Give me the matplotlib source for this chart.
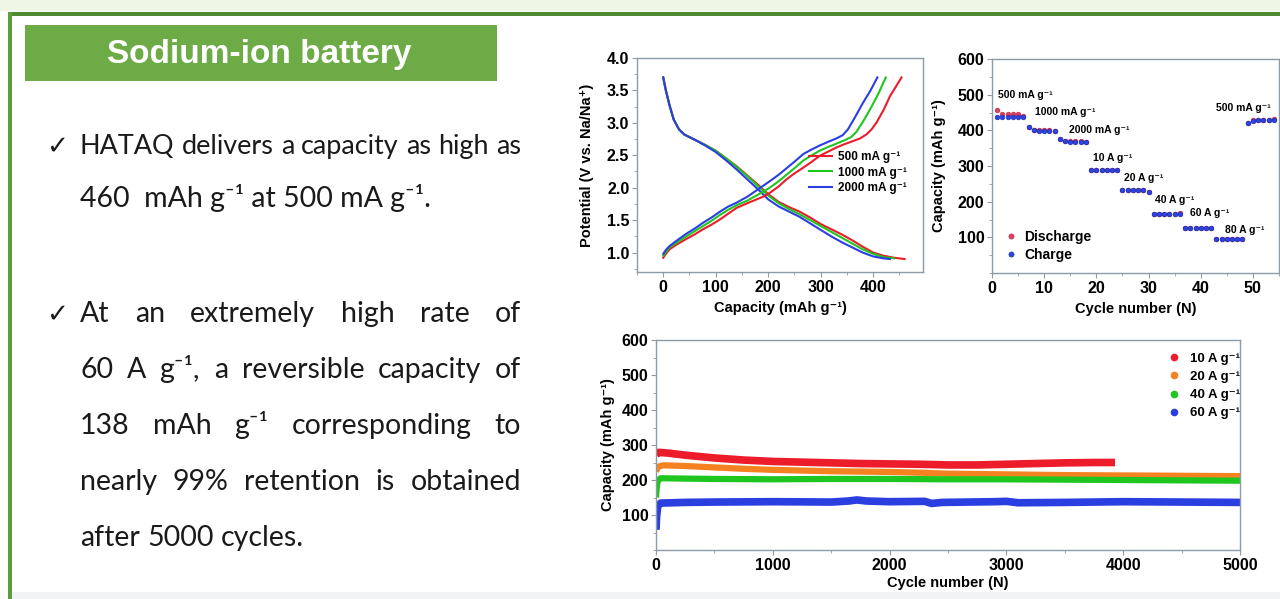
import matplotlib
matplotlib.use("Agg")
import matplotlib.pyplot as plt
from matplotlib.patches import Rectangle
from matplotlib.ticker import MultipleLocator, FormatStrFormatter

W, H = 1280, 599

plt.rcParams["font.family"] = ["Liberation Sans", "DejaVu Sans"]
plt.rcParams["font.weight"] = "bold"
plt.rcParams["axes.labelweight"] = "bold"

# ---- galvanostatic charge/discharge profiles (capacity mAh/g, potential V) ----
dis500_cap = [0, 5, 12, 20, 30, 40, 60, 80, 100, 120, 140, 160, 180, 200, 220, 240, 260, 280, 300,
              320, 340, 360, 380, 400, 420, 440, 460]
dis500_v = [3.70, 3.50, 3.27, 3.05, 2.90, 2.82, 2.74, 2.66, 2.57, 2.45, 2.33, 2.19, 2.05, 1.90, 1.78,
            1.70, 1.63, 1.54, 1.44, 1.36, 1.28, 1.19, 1.09, 1.00, 0.95, 0.92, 0.90]
dis1000_cap = [0, 5, 12, 20, 30, 40, 60, 80, 100, 120, 140, 160, 180, 200, 220, 240, 260, 280, 300,
               320, 340, 360, 380, 400, 420, 440]
dis1000_v = [3.70, 3.50, 3.27, 3.05, 2.90, 2.82, 2.74, 2.66, 2.57, 2.45, 2.32, 2.18, 2.03, 1.88, 1.76,
             1.67, 1.59, 1.50, 1.41, 1.32, 1.23, 1.14, 1.05, 0.98, 0.93, 0.91]
dis2000_cap = [0, 5, 12, 20, 30, 40, 60, 80, 100, 120, 140, 160, 180, 200, 220, 240, 260, 280, 300,
               320, 340, 360, 380, 400, 420, 432]
dis2000_v = [3.70, 3.50, 3.27, 3.05, 2.90, 2.82, 2.74, 2.65, 2.55, 2.42, 2.28, 2.13, 1.98, 1.82, 1.71,
             1.63, 1.55, 1.45, 1.35, 1.25, 1.16, 1.08, 1.00, 0.94, 0.91, 0.90]

chg500_cap = [0, 5, 12, 25, 44, 60, 76, 92, 108, 124, 140, 160, 178, 190, 203, 220, 235, 250, 267,
              283, 298, 315, 330, 345, 362, 375, 387, 397, 406, 420, 432, 445, 454]
chg500_v = [0.92, 0.98, 1.05, 1.12, 1.21, 1.28, 1.36, 1.43, 1.51, 1.60, 1.69, 1.76, 1.82, 1.86, 1.92,
            2.02, 2.13, 2.22, 2.31, 2.40, 2.49, 2.56, 2.62, 2.67, 2.72, 2.76, 2.82, 2.90, 3.00, 3.20,
            3.41, 3.58, 3.70]
chg1000_cap = [0, 5, 12, 25, 44, 60, 76, 92, 108, 124, 140, 160, 178, 203, 220, 235, 250, 267, 283,
               298, 315, 330, 345, 358, 368, 380, 395, 410, 424]
chg1000_v = [0.95, 1.01, 1.08, 1.15, 1.25, 1.33, 1.41, 1.49, 1.58, 1.66, 1.73, 1.80, 1.88, 2.00, 2.10,
             2.20, 2.30, 2.42, 2.50, 2.57, 2.63, 2.68, 2.73, 2.78, 2.86, 3.01, 3.22, 3.45, 3.70]
chg2000_cap = [0, 5, 12, 25, 44, 60, 76, 92, 108, 124, 140, 160, 178, 203, 220, 235, 250, 267, 283,
               298, 315, 330, 342, 352, 365, 380, 395, 408]
chg2000_v = [0.98, 1.04, 1.10, 1.18, 1.29, 1.37, 1.46, 1.54, 1.63, 1.71, 1.77, 1.86, 1.96, 2.10, 2.20,
             2.30, 2.40, 2.52, 2.59, 2.65, 2.71, 2.76, 2.81, 2.90, 3.08, 3.30, 3.50, 3.70]

# ---- rate performance ----
cycles = list(range(1, 55))
charge_cap = [438, 436, 436, 436, 436, 436,
              408, 400, 399, 399, 399, 398,
              375, 369, 368, 368, 368, 367,
              289, 289, 289, 289, 289, 288,
              233, 233, 233, 233, 232, 226,
              165, 165, 165, 165, 165, 166,
              125, 125, 125, 125, 125, 125,
              94, 94, 94, 94, 94, 95,
              420, 427, 428, 429, 429, 430]
discharge_cap = [457, 446, 446, 446, 445, 440,
                 409, 401, 400, 400, 400, 399,
                 376, 370, 369, 369, 369, 368,
                 290, 290, 290, 290, 290, 289,
                 234, 234, 234, 234, 233, 227,
                 166, 166, 166, 166, 166, 167,
                 126, 126, 126, 126, 126, 126,
                 95, 95, 95, 95, 95, 96,
                 421, 428, 429, 430, 430, 431]
rate_labels = ["500 mA g\u207b\u00b9", "1000 mA g\u207b\u00b9", "2000 mA g\u207b\u00b9", "10 A g\u207b\u00b9",
               "20 A g\u207b\u00b9", "40 A g\u207b\u00b9", "60 A g\u207b\u00b9", "80 A g\u207b\u00b9",
               "500 mA g\u207b\u00b9"]
rate_label_x = [1.2, 8.3, 14.8, 19.4, 25.3, 31.2, 37.9, 44.6, 42.9]
rate_label_y = [499, 451, 401, 322, 266, 205, 168, 121, 463]

# ---- long-term cycling at high rates ----
c10_cyc = [0, 20, 100, 250, 500, 750, 1000, 1250, 1500, 1750, 2000, 2250, 2500, 2750, 3000, 3250,
           3500, 3750, 3930]
c10_cap = [272, 279, 277, 271, 263, 257, 253, 251, 249, 247, 246, 245, 243, 243, 245, 247, 249, 250, 250]
c20_cyc = [0, 20, 60, 250, 500, 750, 1000, 1250, 1500, 1750, 2000, 2250, 2500, 2750, 3000, 3500,
           4000, 4500, 5000]
c20_cap = [225, 238, 242, 240, 236, 232, 229, 227, 225, 224, 223, 221, 218, 217, 216, 214, 213, 212, 211]
c40_cyc = [0, 5, 15, 40, 250, 500, 1000, 1500, 2000, 2500, 3000, 3500, 4000, 4500, 5000]
c40_cap = [150, 175, 198, 205, 204, 203, 202, 203, 203, 202, 202, 201, 200, 199, 198]
c60_cyc = [0, 5, 15, 40, 250, 500, 1000, 1500, 1650, 1720, 1800, 2000, 2300, 2360, 2450, 2900, 3000,
           3100, 3500, 4000, 4500, 5000]
c60_cap = [58, 95, 125, 134, 136, 137, 138, 137, 140, 143, 140, 138, 139, 133, 136, 138, 139, 135,
           136, 138, 137, 136]

RED, GREEN, BLUE, ORANGE = "#ec1c2a", "#1fc61f", "#2b3ee0", "#f58220"
SPINE = "#8d9ba8"
SUP = "\u207b\u00b9"
TICK_SIZE = 11.5


def px_box(l, t, r, b):
    return [l / W, 1 - b / H, (r - l) / W, (b - t) / H]


def style(ax):
    for s in ax.spines.values():
        s.set_color(SPINE)
        s.set_linewidth(1.0)
    ax.tick_params(which="both", direction="out", color=SPINE, labelsize=TICK_SIZE, pad=2)
    ax.tick_params(which="major", length=3.5)
    ax.tick_params(which="minor", length=2.5)


fig = plt.figure(figsize=(W / 100, H / 100), dpi=100)

# page background, frame lines and title banner
bg = fig.add_axes([0, 0, 1, 1], zorder=-5)
bg.set_xlim(0, W)
bg.set_ylim(H, 0)
bg.axis("off")
bg.add_patch(Rectangle((0, 0), W, 11, color="#eef6e6", lw=0))
bg.add_patch(Rectangle((8, 12), W - 8, 4, color="#4f8b30", lw=0))
bg.add_patch(Rectangle((8, 12), 4, H - 12, color="#5e9d3c", lw=0))
bg.add_patch(Rectangle((12, 592), W - 12, 7, color="#f1f3f5", lw=0))
bg.add_patch(Rectangle((25, 25), 472, 56, color="#6cab46", lw=0))
bg.text(259, 55, "Sodium-ion battery", color="white", fontsize=24, fontweight="bold",
        family=["Liberation Sans", "DejaVu Sans"], ha="center", va="center")

# bullet text, justified between X0 and X1
TXT = ["Lato", "DejaVu Sans"]
TSIZE = 20.5
X0, X1 = 80, 521
renderer = fig.canvas.get_renderer()


def text_line(words, y, justify=True):
    size = TSIZE
    space = 0.25 * size * 100 / 72
    items = [bg.text(0, y, w, fontsize=size, family=TXT, fontweight="normal", color="#1a1a1a",
                     ha="left", va="baseline") for w in words]
    widths = [t.get_window_extent(renderer).width for t in items]
    natural = sum(widths) + space * (len(words) - 1)
    if natural > X1 - X0:
        # overfull line: shrink it so it just fits with normal word spacing
        k = (X1 - X0) / natural
        size *= k
        space *= k
        for t in items:
            t.set_fontsize(size)
        widths = [w * k for w in widths]
        gap = space
    elif justify and len(words) > 1:
        gap = (X1 - X0 - sum(widths)) / (len(words) - 1)
    else:
        gap = space
    x = X0
    for t, w in zip(items, widths):
        t.set_x(x)
        x += w + gap


for yb in (154, 322):
    bg.text(46, yb, "\u2713", fontsize=19, family=["DejaVu Sans"], fontweight="normal",
            color="#1a1a1a", ha="left", va="baseline")

text_line("HATAQ delivers a capacity as high as".split(), 154)
bg.text(X0, 207, "460  mAh g" + SUP + " at 500 mA g" + SUP + ".", fontsize=TSIZE, family=TXT,
        fontweight="normal", color="#1a1a1a", ha="left", va="baseline")
text_line("At an extremely high rate of".split(), 322)
text_line(["60", "A", "g" + SUP + ",", "a", "reversible", "capacity", "of"], 378)
text_line(["138", "mAh", "g" + SUP, "corresponding", "to"], 434)
text_line("nearly 99% retention is obtained".split(), 490)
text_line("after 5000 cycles.".split(), 546, justify=False)

# (a) charge/discharge profiles
ax1 = fig.add_axes(px_box(637, 58, 923, 272))
ax1.plot(dis500_cap, dis500_v, color=RED, lw=1.5, label="500 mA g" + SUP)
ax1.plot(dis1000_cap, dis1000_v, color=GREEN, lw=1.5, label="1000 mA g" + SUP)
ax1.plot(dis2000_cap, dis2000_v, color=BLUE, lw=1.5, label="2000 mA g" + SUP)
ax1.plot(chg500_cap, chg500_v, color=RED, lw=1.5)
ax1.plot(chg1000_cap, chg1000_v, color=GREEN, lw=1.5)
ax1.plot(chg2000_cap, chg2000_v, color=BLUE, lw=1.5)
ax1.set_xlim(-50, 495)
ax1.set_ylim(0.7, 4.0)
ax1.xaxis.set_major_locator(MultipleLocator(100))
ax1.xaxis.set_minor_locator(MultipleLocator(50))
ax1.set_yticks([1.0, 1.5, 2.0, 2.5, 3.0, 3.5, 4.0])
ax1.yaxis.set_minor_locator(MultipleLocator(0.25))
ax1.yaxis.set_major_formatter(FormatStrFormatter("%.1f"))
ax1.set_xlabel("Capacity (mAh g" + SUP + ")", fontsize=10.5)
ax1.set_ylabel("Potential (V vs. Na/Na\u207a)", fontsize=10.5)
ax1.xaxis.set_label_coords(0.5, -0.135)
ax1.yaxis.set_label_coords(-0.15, 0.5)
style(ax1)
ax1.legend(loc="upper left", bbox_to_anchor=(0.6, 0.565), frameon=False, fontsize=8.5,
           handlelength=2.0, handletextpad=0.5, labelspacing=0.3, borderpad=0, borderaxespad=0)

# (b) rate capability
ax2 = fig.add_axes(px_box(992, 59, 1279, 273))
ax2.plot(cycles, discharge_cap, "o", ms=3.4, color="#e0405c", mec="#c02040", mew=0.4, label="Discharge")
ax2.plot(cycles, charge_cap, "o", ms=3.4, color="#2c44e6", mec="#1a2c9e", mew=0.4, label="Charge")
for txt, x, y in zip(rate_labels, rate_label_x, rate_label_y):
    ax2.text(x, y, txt, fontsize=7.5, fontweight="bold", ha="left", va="center")
ax2.set_xlim(0, 55)
ax2.set_ylim(0, 600)
ax2.xaxis.set_major_locator(MultipleLocator(10))
ax2.xaxis.set_minor_locator(MultipleLocator(5))
ax2.set_yticks([100, 200, 300, 400, 500, 600])
ax2.yaxis.set_minor_locator(MultipleLocator(50))
ax2.set_xlabel("Cycle number (N)", fontsize=10.5)
ax2.set_ylabel("Capacity (mAh g" + SUP + ")", fontsize=10.5)
ax2.xaxis.set_label_coords(0.5, -0.135)
ax2.yaxis.set_label_coords(-0.16, 0.5)
style(ax2)
ax2.legend(loc="upper left", bbox_to_anchor=(0.05, 0.2), frameon=False, fontsize=10,
           handlelength=0.7, handletextpad=0.6, labelspacing=0.25, borderpad=0, borderaxespad=0,
           markerscale=1.1)

# (c) long-term cycling
ax3 = fig.add_axes(px_box(656, 340, 1240, 550))
ax3.plot(c10_cyc, c10_cap, color=RED, lw=5.5, solid_capstyle="butt")
ax3.plot(c20_cyc, c20_cap, color=ORANGE, lw=4.5, solid_capstyle="butt")
ax3.plot(c40_cyc, c40_cap, color=GREEN, lw=4.5, solid_capstyle="butt")
ax3.plot(c60_cyc, c60_cap, color=BLUE, lw=5.5, solid_capstyle="butt")
for col, lab in zip([RED, ORANGE, GREEN, BLUE], ["10 A g", "20 A g", "40 A g", "60 A g"]):
    ax3.plot([], [], "o", ms=4.5, color=col, label=lab + SUP)
ax3.set_xlim(0, 5000)
ax3.set_ylim(0, 600)
ax3.xaxis.set_major_locator(MultipleLocator(1000))
ax3.xaxis.set_minor_locator(MultipleLocator(500))
ax3.set_yticks([100, 200, 300, 400, 500, 600])
ax3.yaxis.set_minor_locator(MultipleLocator(50))
ax3.set_xlabel("Cycle number (N)", fontsize=10.5)
ax3.set_ylabel("Capacity (mAh g" + SUP + ")", fontsize=10.5)
ax3.xaxis.set_label_coords(0.5, -0.125)
ax3.yaxis.set_label_coords(-0.07, 0.5)
style(ax3)
ax3.legend(loc="upper left", bbox_to_anchor=(0.88, 0.94), frameon=False, fontsize=9.5,
           handlelength=0.6, handletextpad=0.9, labelspacing=0.45, borderpad=0, borderaxespad=0)

fig.savefig("out.png", dpi=100)
